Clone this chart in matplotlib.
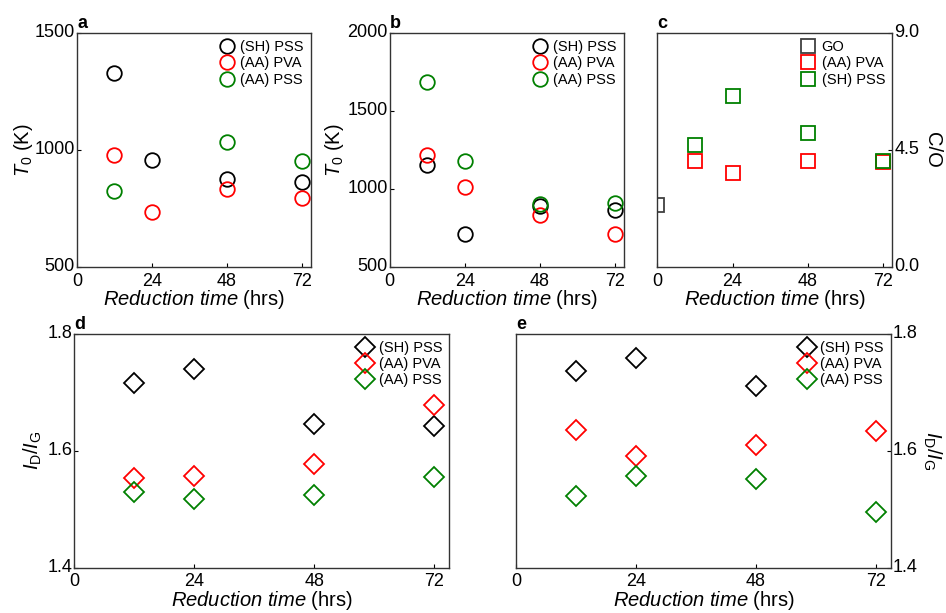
import numpy as np
import matplotlib
matplotlib.use('Agg')
import matplotlib.pyplot as plt
from matplotlib.transforms import ScaledTranslation

plt.rcParams['font.family'] = ['Liberation Sans', 'DejaVu Sans']
plt.rcParams['mathtext.fontset'] = 'custom'
plt.rcParams['mathtext.rm'] = 'Liberation Sans'
plt.rcParams['mathtext.it'] = 'Liberation Sans:italic'
plt.rcParams['mathtext.bf'] = 'Liberation Sans:bold'

# reduction times (hrs)
hours = [12, 24, 48, 72]

# panel a: T0 (K)
a_sh_pss = [1330, 956, 875, 864]
a_aa_pva = [979, 734, 835, 795]
a_aa_pss_hours = [12, 48, 72]
a_aa_pss = [825, 1035, 951]

# panel b: T0 (K)
b_sh_pss = [1157, 710, 890, 864]
b_aa_pva = [1221, 1014, 832, 710]
b_aa_pss = [1688, 1180, 907, 913]

# panel c: C/O ratio
c_go_hours = [0]
c_go = [2.4]
c_aa_pva = [4.07, 3.63, 4.06, 4.02]
c_sh_pss = [4.71, 6.59, 5.14, 4.08]

# panel d: ID/IG
d_sh_pss = [1.715, 1.739, 1.646, 1.642]
d_aa_pva = [1.553, 1.557, 1.577, 1.678]
d_aa_pss = [1.530, 1.518, 1.524, 1.555]

# panel e: ID/IG
e_sh_pss_hours = [12, 24, 48]
e_sh_pss = [1.737, 1.758, 1.710]
e_aa_pva = [1.636, 1.591, 1.610, 1.633]
e_aa_pss = [1.523, 1.556, 1.552, 1.496]

BLACK = '#000000'
RED = '#ff0000'
GREEN = '#008000'
GREY = '#404040'

W, H = 946, 613
fig = plt.figure(figsize=(W / 100, H / 100), dpi=100)


def make_ax(x0, x1, ytop, ybot):
    return fig.add_axes([x0 / W, 1 - ybot / H, (x1 - x0) / W, (ybot - ytop) / H])


def style(ax, letter, right=False):
    ax.set_xlim(0, 75)
    ax.set_xticks([0, 24, 48, 72])
    ax.tick_params(direction='in', length=3, width=0.8, labelsize=13, pad=1.5,
                   left=not right, right=right, labelleft=not right, labelright=right,
                   top=False)
    ax.tick_params(axis='x', pad=4)
    # lift the y tick labels a little so the corner labels don't collide
    lift = ScaledTranslation(0, 1.5 / 72, fig.dpi_scale_trans)
    for lab in ax.get_yticklabels():
        lab.set_transform(lab.get_transform() + lift)
    for s in ax.spines.values():
        s.set_linewidth(1.0)
        s.set_color('#333333')
    ax.set_xlabel(r'$\it{Reduction\ time}$ (hrs)', fontsize=14.5, labelpad=-1)
    ax.text(0.0, 1.005, letter, transform=ax.transAxes, fontsize=13,
            fontweight='bold', ha='left', va='bottom')
    if right:
        ax.yaxis.set_label_position('right')


def pts(ax, x, y, marker, color, label, ms):
    ax.plot(x, y, linestyle='none', marker=marker, markersize=ms,
            markerfacecolor='none', markeredgecolor=color, markeredgewidth=1.3,
            label=label)


def legend(ax):
    ax.legend(loc='upper right', frameon=False, fontsize=10.5, handletextpad=0.3,
              labelspacing=0.15, borderaxespad=0.2, handlelength=1.2,
              borderpad=0.3)


# a
ax = make_ax(77, 311, 33, 267)
pts(ax, hours, a_sh_pss, 'o', BLACK, '(SH) PSS', 10.5)
pts(ax, hours, a_aa_pva, 'o', RED, '(AA) PVA', 10.5)
pts(ax, a_aa_pss_hours, a_aa_pss, 'o', GREEN, '(AA) PSS', 10.5)
ax.set_ylim(500, 1500)
ax.set_yticks([500, 1000, 1500])
style(ax, 'a')
ax.set_ylabel(r'$T_{\rm 0}$ (K)', fontsize=14.5, labelpad=0)
legend(ax)

# b
ax = make_ax(389.7, 624, 33, 267)
pts(ax, hours, b_sh_pss, 'o', BLACK, '(SH) PSS', 10.5)
pts(ax, hours, b_aa_pva, 'o', RED, '(AA) PVA', 10.5)
pts(ax, hours, b_aa_pss, 'o', GREEN, '(AA) PSS', 10.5)
ax.set_ylim(500, 2000)
ax.set_yticks([500, 1000, 1500, 2000])
style(ax, 'b')
ax.set_ylabel(r'$T_{\rm 0}$ (K)', fontsize=14.5, labelpad=1)
legend(ax)

# c
ax = make_ax(657.3, 892.3, 33, 267)
pts(ax, c_go_hours, c_go, 's', GREY, 'GO', 9.5)
pts(ax, hours, c_aa_pva, 's', RED, '(AA) PVA', 9.5)
pts(ax, hours, c_sh_pss, 's', GREEN, '(SH) PSS', 9.5)
ax.set_ylim(0, 9)
ax.set_yticks([0, 4.5, 9])
ax.set_yticklabels(['0.0', '4.5', '9.0'])
style(ax, 'c', right=True)
ax.set_ylabel('C/O', fontsize=14.5, rotation=270, labelpad=16)
legend(ax)

# d
ax = make_ax(74.3, 449.3, 333.7, 567.7)
pts(ax, hours, d_sh_pss, 'D', BLACK, '(SH) PSS', 10)
pts(ax, hours, d_aa_pva, 'D', RED, '(AA) PVA', 10)
pts(ax, hours, d_aa_pss, 'D', GREEN, '(AA) PSS', 10)
ax.set_ylim(1.4, 1.8)
ax.set_yticks([1.4, 1.6, 1.8])
style(ax, 'd')
ax.set_ylabel(r'$I_{\rm D}/I_{\rm G}$', fontsize=14.5, labelpad=2)
legend(ax)

# e
ax = make_ax(516, 891, 333.7, 567.7)
pts(ax, e_sh_pss_hours, e_sh_pss, 'D', BLACK, '(SH) PSS', 10)
pts(ax, hours, e_aa_pva, 'D', RED, '(AA) PVA', 10)
pts(ax, hours, e_aa_pss, 'D', GREEN, '(AA) PSS', 10)
ax.set_ylim(1.4, 1.8)
ax.set_yticks([1.4, 1.6, 1.8])
style(ax, 'e', right=True)
ax.set_ylabel(r'$I_{\rm D}/I_{\rm G}$', fontsize=14.5, rotation=270, labelpad=18)
legend(ax)

fig.savefig('out.png', dpi=100)
